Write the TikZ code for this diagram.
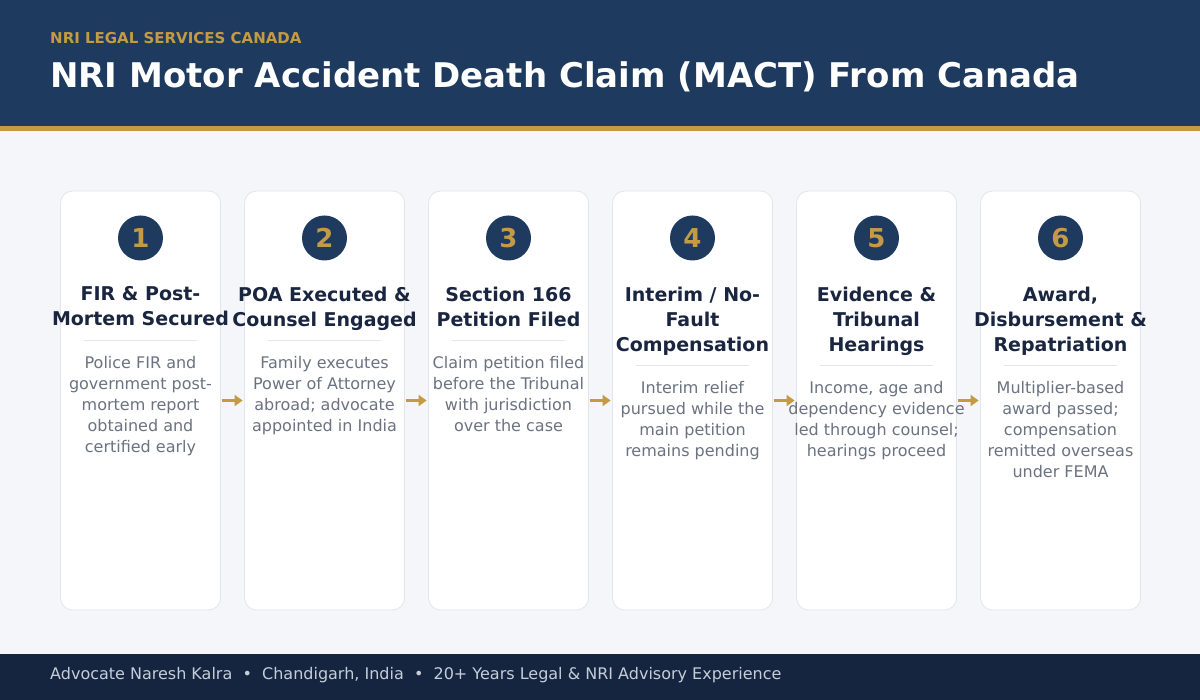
\documentclass[tikz,border=0pt]{standalone}
\usepackage{fontspec}
\setmainfont{DejaVu Sans}
\usetikzlibrary{arrows.meta}
\definecolor{hdr}{HTML}{1F3A5F}
\definecolor{gold}{HTML}{C49A45}
\definecolor{pagebg}{HTML}{F5F6FA}
\definecolor{cardline}{HTML}{E2E5EE}
\definecolor{ttl}{HTML}{1A2540}
\definecolor{desc}{HTML}{6B7280}
\definecolor{ftr}{HTML}{15243F}
\definecolor{ftrtext}{HTML}{C5CDD8}
\tikzset{
  card/.style={draw=cardline, line width=0.8pt, fill=white, rounded corners=12pt, minimum width=160pt, minimum height=419pt, inner sep=0pt},
  num/.style={circle, fill=hdr, minimum size=45pt, inner sep=0pt, text=gold, font=\fontsize{26}{30}\selectfont\bfseries},
  ttltext/.style={anchor=north, align=center, inner sep=0pt, text=ttl, font=\fontsize{19}{25}\selectfont\bfseries},
  desctext/.style={anchor=north, align=center, inner sep=0pt, text=desc, font=\fontsize{16}{21}\selectfont},
  divider/.style={draw=cardline, line width=1pt},
  arr/.style={draw=gold, line width=2.6pt, -{Triangle[length=8pt,width=11pt]}, shorten <=1.5pt, shorten >=1.5pt}
}
\begin{document}
\begin{tikzpicture}[x=1pt,y=-1pt]
\useasboundingbox (0,0) rectangle (1200,700);
\fill[pagebg] (0,0) rectangle (1200,700);
\fill[hdr] (0,0) rectangle (1200,126);
\fill[gold] (0,126) rectangle (1200,131);
\fill[ftr] (0,654) rectangle (1200,700);
\node[anchor=base west, inner sep=0pt, text=gold, font=\fontsize{15}{18}\selectfont\bfseries] (sub) at (50,44) {NRI LEGAL SERVICES CANADA};
\node[anchor=base west, inner sep=0pt, text=white, font=\fontsize{34}{40}\selectfont\bfseries] (title) at (50,88) {NRI Motor Accident Death Claim (MACT) From Canada};
\node[anchor=base west, inner sep=0pt, text=ftrtext, font=\fontsize{16}{19}\selectfont] (foot) at (50,679.5) {Advocate Naresh Kalra \ \textbullet\ \ Chandigarh, India \ \textbullet\ \ 20+ Years Legal \& NRI Advisory Experience};
% cards
\foreach \i/\x in {1/140.5,2/324.5,3/508.5,4/692.5,5/876.5,6/1060.5}{
  \node[card] (c\i) at (\x,400.5) {};
  \node[num] (n\i) at (\x,238) {\i};
}
% titles
\node[ttltext] (t1) at (140.5,286.5) {FIR \& Post-\\Mortem Secured};
\node[ttltext] (t2) at (324.5,286.5) {POA Executed \&\\Counsel Engaged};
\node[ttltext] (t3) at (508.5,286.5) {Section 166\\Petition Filed};
\node[ttltext] (t4) at (692.5,286.5) {Interim / No-\\Fault\\Compensation};
\node[ttltext] (t5) at (876.5,286.5) {Evidence \&\\Tribunal\\Hearings};
\node[ttltext] (t6) at (1060.5,286.5) {Award,\\Disbursement \&\\Repatriation};
% dividers
\foreach \i/\x in {1/140.5,2/324.5,3/508.5}{
  \draw[divider] (\x-56.5,340.5) -- (\x+56.5,340.5);
}
\foreach \i/\x in {4/692.5,5/876.5,6/1060.5}{
  \draw[divider] (\x-56.5,365.5) -- (\x+56.5,365.5);
}
% descriptions
\node[desctext] (d1) at (140.5,356.5) {Police FIR and\\government post-\\mortem report\\obtained and\\certified early};
\node[desctext] (d2) at (324.5,356.5) {Family executes\\Power of Attorney\\abroad; advocate\\appointed in India};
\node[desctext] (d3) at (508.5,356.5) {Claim petition filed\\before the Tribunal\\with jurisdiction\\over the case};
\node[desctext] (d4) at (692.5,381.5) {Interim relief\\pursued while the\\main petition\\remains pending};
\node[desctext] (d5) at (876.5,381.5) {Income, age and\\dependency evidence\\led through counsel;\\hearings proceed};
\node[desctext] (d6) at (1060.5,381.5) {Multiplier-based\\award passed;\\compensation\\remitted overseas\\under FEMA};
% arrows
\draw[arr] (c1.east) -- (c2.west);
\draw[arr] (c2.east) -- (c3.west);
\draw[arr] (c3.east) -- (c4.west);
\draw[arr] (c4.east) -- (c5.west);
\draw[arr] (c5.east) -- (c6.west);
\end{tikzpicture}
\end{document}
